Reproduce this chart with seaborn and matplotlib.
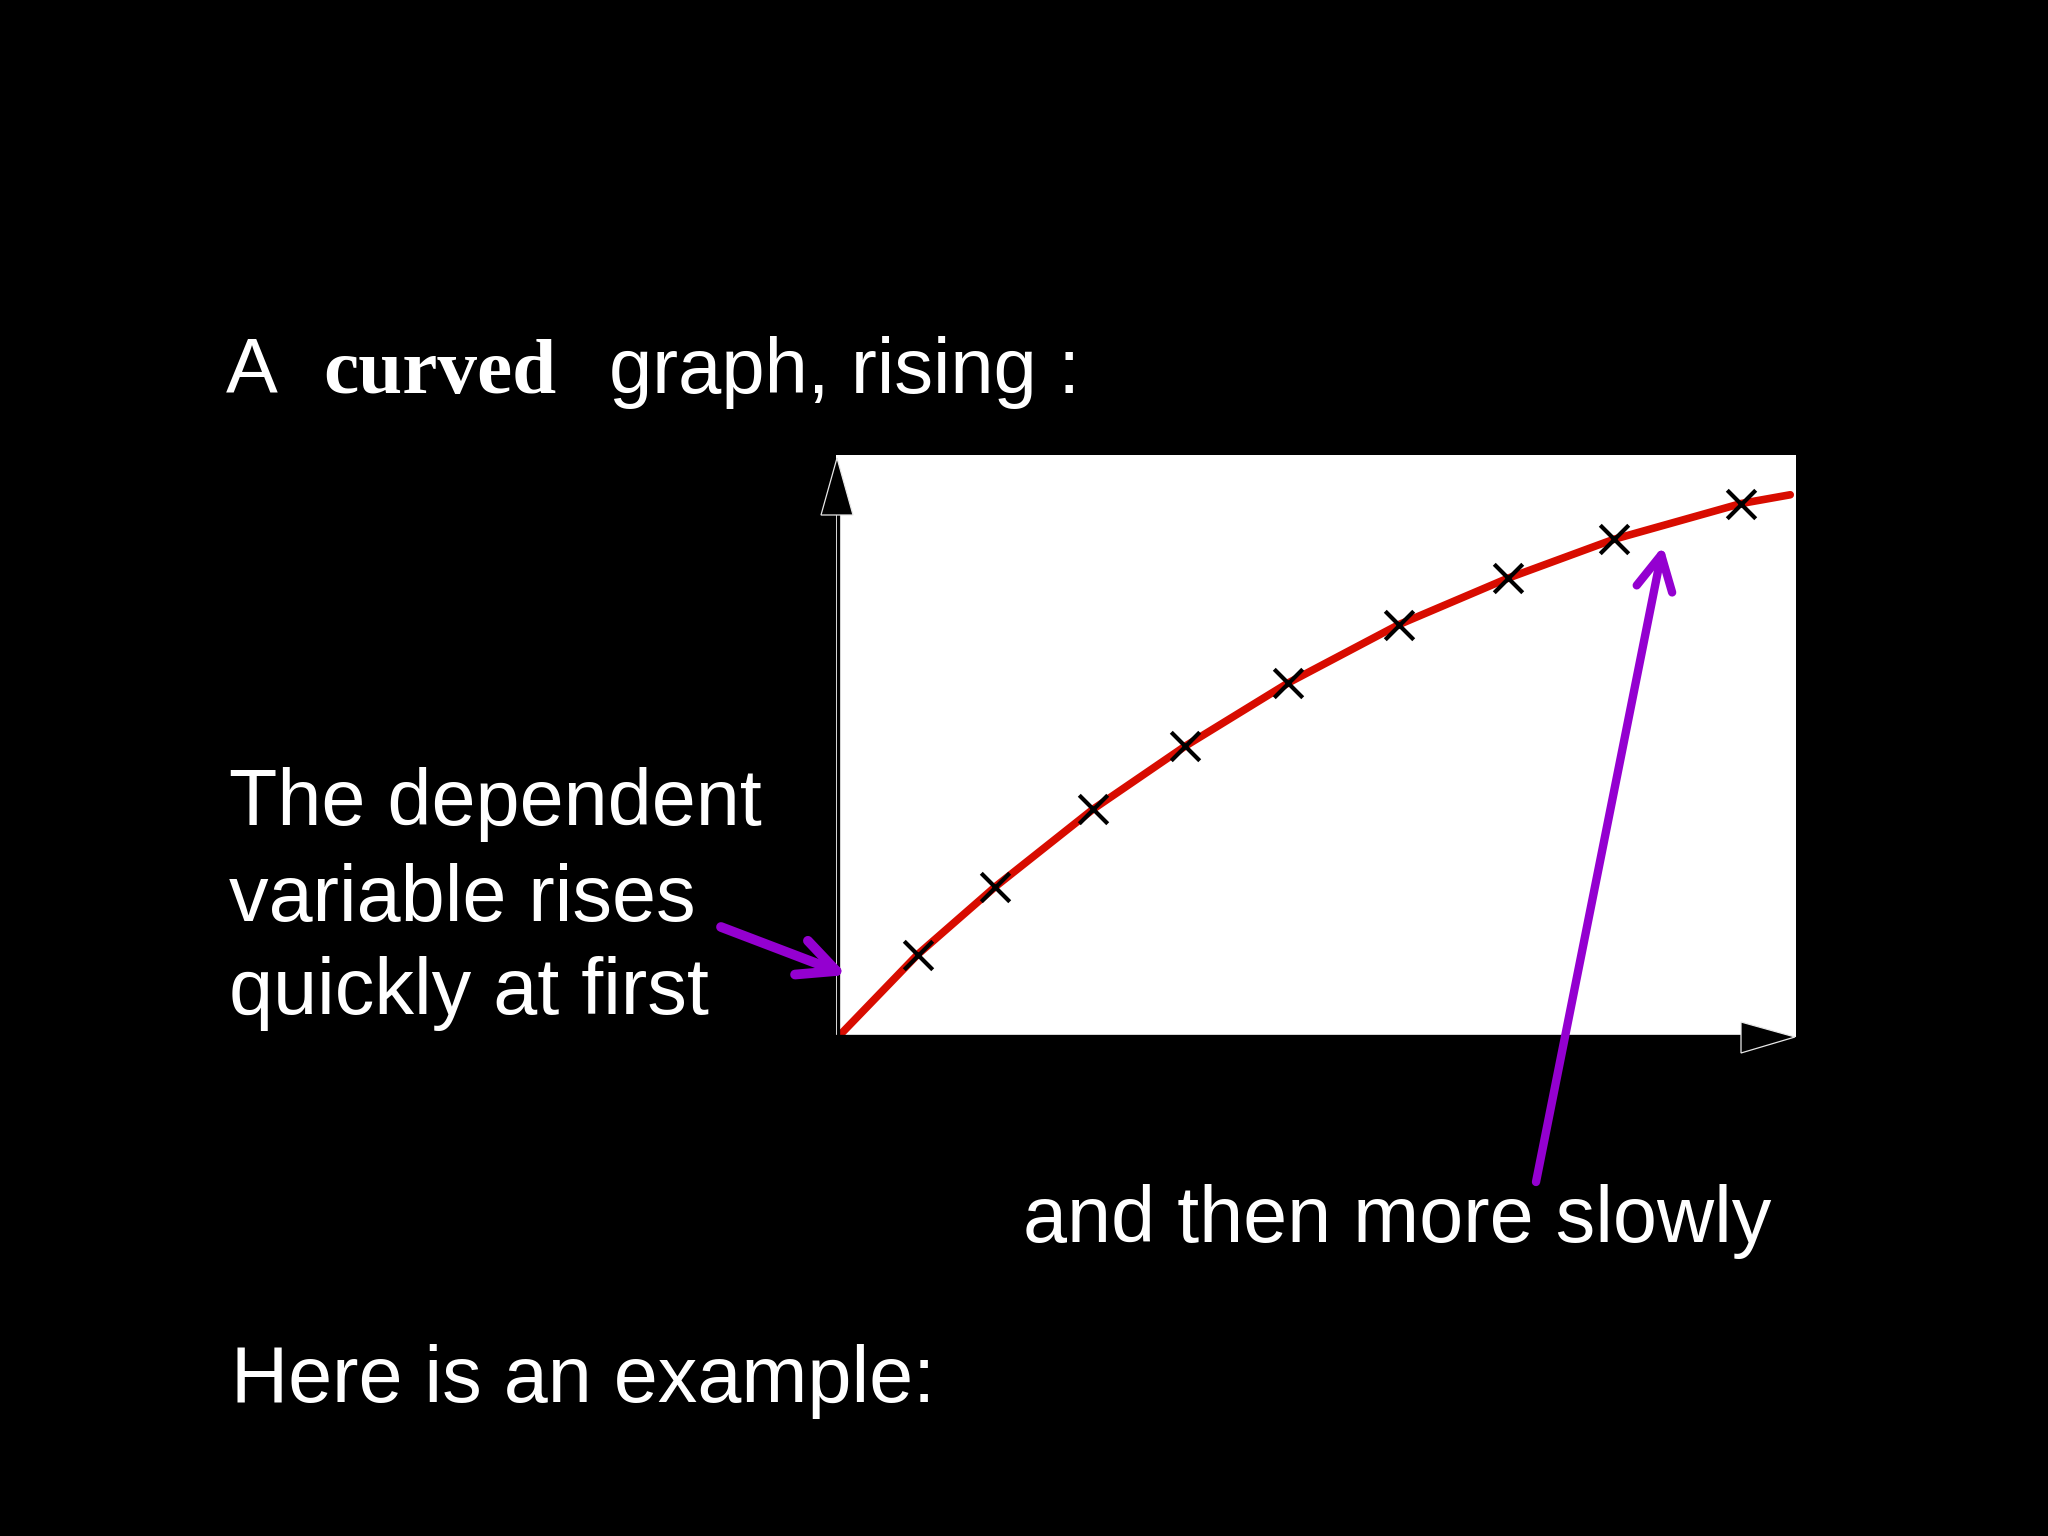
import matplotlib
matplotlib.use("Agg")
import matplotlib.pyplot as plt
from matplotlib.patches import FancyArrowPatch, Polygon
from matplotlib.lines import Line2D
import seaborn as sns
import pandas as pd

# ---- data ----
curve_x = [0.06, 0.85, 1.66, 2.68, 3.64, 4.71, 5.86, 7.00, 8.10, 9.43, 9.94]
curve_y = [0.04, 0.85, 1.55, 2.35, 3.00, 3.65, 4.25, 4.73, 5.13, 5.50, 5.59]
point_x = [0.85, 1.66, 2.68, 3.64, 4.71, 5.86, 7.00, 8.10, 9.43]
point_y = [0.85, 1.55, 2.35, 3.00, 3.65, 4.25, 4.73, 5.13, 5.50]

title_parts = ["A", "curved", "graph, rising :"]
left_lines = ["The dependent", "variable rises", "quickly at first"]
right_note = "and then more slowly"
footer = "Here is an example:"

W, H = 2048, 1536
sns.set_style("white")
plt.rcParams["font.family"] = ["Liberation Sans", "DejaVu Sans"]

fig = plt.figure(figsize=(W / 100, H / 100), dpi=100, facecolor="black")
ax = fig.add_axes([836 / W, 1 - 1037 / H, 960 / W, 582 / H])
ax.set_facecolor("white")

curve_df = pd.DataFrame({"x": curve_x, "y": curve_y})
pts_df = pd.DataFrame({"x": point_x, "y": point_y})

sns.lineplot(data=curve_df, x="x", y="y", ax=ax, color="#d80c00", lw=5.5,
             sort=False, estimator=None, zorder=2)
sns.scatterplot(data=pts_df, x="x", y="y", ax=ax, marker="x", s=420,
                color="black", linewidth=3.0, zorder=3)

ax.set_xlim(0, 10)
ax.set_ylim(0, 6)
ax.set_xticks([])
ax.set_yticks([])
ax.set_xlabel("")
ax.set_ylabel("")
for s in ax.spines.values():
    s.set_visible(False)


def P(x, y):
    """image pixel (origin top-left) -> display pixel (origin bottom-left)"""
    return (x, H - y)


# axis lines drawn just inside the white area
fig.add_artist(Line2D([838, 838], [H - 1037, H - 512], transform=None,
                      color="black", lw=2.4, zorder=5))
fig.add_artist(Line2D([836, 1745], [H - 1035.5, H - 1035.5], transform=None,
                      color="black", lw=2.4, zorder=5))
# arrowheads with a thin light outline (visible over the black page)
fig.add_artist(Polygon([P(837, 458), P(821, 515), P(853, 515)], closed=True,
                       transform=None, facecolor="black", edgecolor="#e8e8e8",
                       lw=0.9, zorder=6))
fig.add_artist(Polygon([P(1795, 1037), P(1741, 1022), P(1741, 1053)], closed=True,
                       transform=None, facecolor="black", edgecolor="#e8e8e8",
                       lw=0.9, zorder=6))


def ftext(x, y, s, **kw):
    opts = dict(color="white", va="baseline", ha="left", fontsize=57,
                family=["Liberation Sans", "DejaVu Sans"])
    opts.update(kw)
    fig.text(x / W, 1 - y / H, s, **opts)


ftext(226, 393, title_parts[0], fontsize=56)
ftext(323, 393, title_parts[1], fontsize=57, family=["Liberation Serif", "DejaVu Serif"],
      fontweight="heavy")
ftext(609, 393, title_parts[2], fontsize=56)

for line, base in zip(left_lines, [825, 921, 1014]):
    ftext(229, base, line)

ftext(1023, 1242, right_note)
ftext(231, 1402, footer)

purple = "#9400d0"
# arrow: rises quickly
fig.add_artist(FancyArrowPatch(
    posA=P(721, 927), posB=P(847, 975), transform=None,
    arrowstyle="->,head_length=1.35,head_width=0.65", mutation_scale=20,
    color=purple, lw=7, shrinkA=0, shrinkB=0, zorder=7))
# arrow: more slowly
fig.add_artist(FancyArrowPatch(
    posA=P(1536, 1182), posB=P(1663, 546), transform=None,
    arrowstyle="->,head_length=1.25,head_width=0.65", mutation_scale=20,
    color=purple, lw=6, shrinkA=0, shrinkB=0, zorder=7))

fig.savefig("out.png", dpi=100, facecolor="black")
